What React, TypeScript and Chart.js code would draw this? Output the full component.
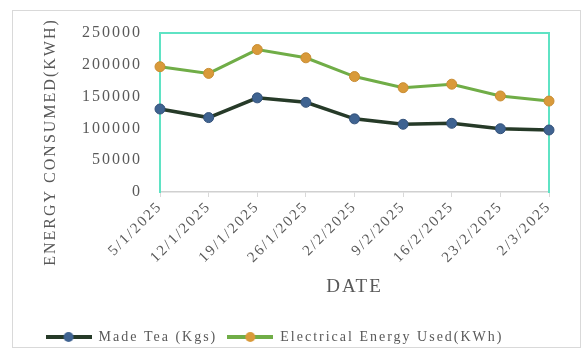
import React, { useEffect, useRef } from "react";
import { Chart, registerables } from "chart.js";

Chart.register(...registerables);

// Weekly readings
const dates = [
  "5/1/2025",
  "12/1/2025",
  "19/1/2025",
  "26/1/2025",
  "2/2/2025",
  "9/2/2025",
  "16/2/2025",
  "23/2/2025",
  "2/3/2025",
];
const madeTeaKgs = [130500, 117000, 148000, 141000, 115000, 106500, 108000, 99500, 97500];
const energyKwh = [197000, 186500, 224000, 211000, 181500, 164000, 169500, 151000, 143000];
const yTicks = [0, 50000, 100000, 150000, 200000, 250000];

const SERIF = "'Liberation Serif', 'Times New Roman', serif";
const TEXT = "#595959";
const SPACING = "2px";

const teaLine = "#263a28";
const teaPoint = "#3f6391";
const energyLine = "#70ad47";
const energyPoint = "#d99a3a";

function legendSymbol(line: string, point: string): HTMLCanvasElement {
  const c = document.createElement("canvas");
  c.width = 46;
  c.height = 14;
  const g = c.getContext("2d")!;
  g.strokeStyle = line;
  g.lineWidth = 4;
  g.beginPath();
  g.moveTo(0, 7);
  g.lineTo(46, 7);
  g.stroke();
  g.fillStyle = point;
  g.beginPath();
  g.arc(23, 7, 5, 0, Math.PI * 2);
  g.fill();
  return c;
}

const spacingPlugin = {
  id: "letterSpacing",
  afterInit(chart: any) {
    chart.ctx.letterSpacing = SPACING;
  },
  beforeUpdate(chart: any) {
    chart.ctx.letterSpacing = SPACING;
  },
  beforeDraw(chart: any) {
    chart.ctx.letterSpacing = SPACING;
  },
};

const framePlugin = {
  id: "frames",
  beforeDraw(chart: any) {
    const ctx = chart.ctx;
    ctx.save();
    ctx.fillStyle = "#ffffff";
    ctx.fillRect(0, 0, chart.width, chart.height);
    ctx.strokeStyle = "#d9d9d9";
    ctx.lineWidth = 1;
    ctx.strokeRect(12.5, 10.5, 568, 337);
    ctx.restore();
  },
  beforeDatasetsDraw(chart: any) {
    const { ctx, chartArea: a } = chart;
    ctx.save();
    ctx.strokeStyle = "#5fe3c4";
    ctx.lineWidth = 2;
    ctx.beginPath();
    ctx.moveTo(a.left, a.bottom + 1);
    ctx.lineTo(a.left, a.top);
    ctx.lineTo(a.right, a.top);
    ctx.lineTo(a.right, a.bottom + 1);
    ctx.stroke();
    ctx.restore();
  },
  afterDraw(chart: any) {
    const ctx = chart.ctx;
    ctx.save();
    ctx.letterSpacing = SPACING;
    ctx.font = `16px ${SERIF}`;
    ctx.fillStyle = TEXT;
    ctx.textAlign = "center";
    ctx.textBaseline = "middle";
    ctx.translate(51, 142);
    ctx.rotate(-Math.PI / 2);
    ctx.fillText("ENERGY CONSUMED(KWH)", 0, 0);
    ctx.restore();
  },
};

export default function App() {
  const ref = useRef<HTMLCanvasElement | null>(null);

  useEffect(() => {
    if (!ref.current) return;
    const symbols = [legendSymbol(teaLine, teaPoint), legendSymbol(energyLine, energyPoint)];
    const chart = new Chart(ref.current, {
      type: "line",
      data: {
        labels: dates,
        datasets: [
          {
            label: "Made Tea (Kgs)",
            data: madeTeaKgs,
            borderColor: teaLine,
            borderWidth: 3.5,
            pointBackgroundColor: teaPoint,
            pointBorderColor: "#34527a",
            pointBorderWidth: 1,
            pointRadius: 5,
            tension: 0,
            clip: false,
          },
          {
            label: "Electrical Energy Used(KWh)",
            data: energyKwh,
            borderColor: energyLine,
            borderWidth: 3,
            pointBackgroundColor: energyPoint,
            pointBorderColor: "#c98d33",
            pointBorderWidth: 1,
            pointRadius: 5,
            tension: 0,
            clip: false,
          },
        ],
      },
      options: {
        responsive: false,
        animation: false,
        layout: { padding: { left: 0, right: 37, top: 33, bottom: 4 } },
        plugins: {
          tooltip: { enabled: false },
          legend: {
            position: "bottom",
            labels: {
              usePointStyle: true,
              pointStyleWidth: 46,
              padding: 10,
              color: TEXT,
              font: { family: SERIF, size: 14 },
              generateLabels(chart: any) {
                const items = Chart.defaults.plugins.legend.labels.generateLabels(chart);
                items.forEach((it: any, i: number) => {
                  it.pointStyle = symbols[i];
                });
                return items;
              },
            },
          },
        },
        scales: {
          x: {
            offset: false,
            grid: {
              display: true,
              drawOnChartArea: false,
              drawTicks: true,
              tickLength: 5,
              color: "#d9d9d9",
            },
            border: { display: true, color: "#d0d0d0", width: 1.5 },
            ticks: {
              autoSkip: false,
              minRotation: 45,
              maxRotation: 45,
              padding: 1,
              color: TEXT,
              font: { family: SERIF, size: 15 },
            },
            title: {
              display: true,
              text: "DATE",
              color: TEXT,
              font: { family: SERIF, size: 19 },
              padding: { top: 4, bottom: 22 },
            },
            afterFit(scale: any) {
              scale.height = 128;
            },
          },
          y: {
            min: 0,
            max: 250000,
            grid: { display: false, drawTicks: false },
            border: { display: false },
            afterBuildTicks(scale: any) {
              scale.ticks = yTicks.map((v) => ({ value: v }));
            },
            ticks: {
              padding: 18,
              color: TEXT,
              font: { family: SERIF, size: 16 },
              callback: (v: any) => String(v),
            },
            afterFit(scale: any) {
              scale.width = 160;
            },
          },
        },
      },
      plugins: [spacingPlugin, framePlugin],
    });
    return () => chart.destroy();
  }, []);

  return (
    <div style={{ position: "absolute", left: 0, top: 0, width: 586, height: 358 }}>
      <canvas ref={ref} width={586} height={358} />
    </div>
  );
}
